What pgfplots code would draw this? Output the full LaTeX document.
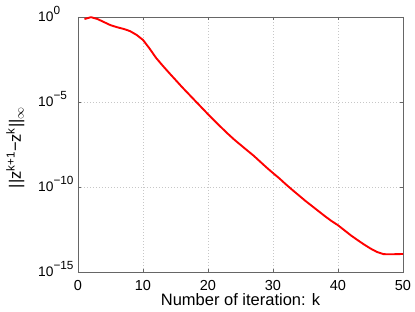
\documentclass[border=0pt]{standalone}
\usepackage{pgfplots}
\pgfplotsset{compat=1.18}
\usepackage{fontspec}
\setmainfont{Liberation Sans}
\newcommand\ex[1]{\raisebox{7.5pt}{\fontsize{11.8}{12}\selectfont #1}}
\begin{document}
\begin{tikzpicture}
\begin{axis}[
  at={(0,0)}, anchor=south west,
  scale only axis, width=325pt, height=255pt,
  xmin=0, xmax=50, ymode=log, ymin=1e-15, ymax=1,
  xtick={0,10,20,30,40,50},
  ytick={1,1e-5,1e-10,1e-15},
  yticklabels={10\ex{0},10\ex{−5},10\ex{−10},10\ex{−15}},
  minor ytick={}, yminorticks=false,
  /pgf/number format/assume math mode=true,
  tick align=inside, tick pos=both,
  major tick length=3pt,
  axis line style={black!60, line width=0.6pt},
  every tick/.style={black!60, line width=0.5pt},
  grid=major, major grid style={black!22, dash pattern=on 0.8pt off 2.2pt, line width=0.6pt},
  ticklabel style={font=\fontsize{14.5}{16}\selectfont, text=black, inner sep=0pt},
  xticklabel style={anchor=base, yshift=-18pt},
  yticklabel style={font=\fontsize{13.8}{16}\selectfont, anchor=base west, xshift=-40pt, yshift=-5pt},
  label style={font=\fontsize{16.5}{18}\selectfont},
  xlabel={Number of iteration: k},
  ylabel={||z\textsuperscript{k+1}−z\textsuperscript{k}||\textsubscript{$\infty$}},
  xlabel style={at={(axis description cs:0.5,0)}, anchor=base, yshift=-34pt, inner sep=0pt},
  ylabel style={at={(axis description cs:0,0.5)}, anchor=base, yshift=57pt, xshift=-3pt, inner sep=0pt},
]
\addplot[red, line width=1.9pt, line join=round] coordinates {
(1,7.59e-1) (2,9.77e-1) (3,7.59e-1) (4,5.01e-1) (5,3.31e-1) (6,2.51e-1)
(7,2.00e-1) (8,1.48e-1) (9,8.91e-2) (10,4.47e-2) (11,1.41e-2) (12,3.98e-3)
(13,1.41e-3) (14,5.25e-4) (15,2.00e-4) (16,7.59e-5) (17,3.02e-5) (18,1.20e-5)
(19,4.79e-6) (20,1.91e-6) (21,7.94e-7) (22,3.31e-7) (23,1.41e-7) (24,6.31e-8)
(25,3.02e-8) (26,1.45e-8) (27,7.08e-9) (28,3.16e-9) (29,1.41e-9) (30,6.61e-10)
(31,3.16e-10) (32,1.41e-10) (33,6.61e-11) (34,3.16e-11) (35,1.51e-11) (36,7.59e-12)
(37,3.80e-12) (38,1.91e-12) (39,1.00e-12) (40,5.62e-13) (41,2.82e-13) (42,1.41e-13)
(43,7.59e-14) (44,4.17e-14) (45,2.40e-14) (46,1.51e-14) (47,1.12e-14) (48,1.10e-14)
(49,1.12e-14) (50,1.15e-14)
};
\end{axis}
\path (-78pt,-40pt) rectangle (337pt,272pt);
\end{tikzpicture}
\end{document}
